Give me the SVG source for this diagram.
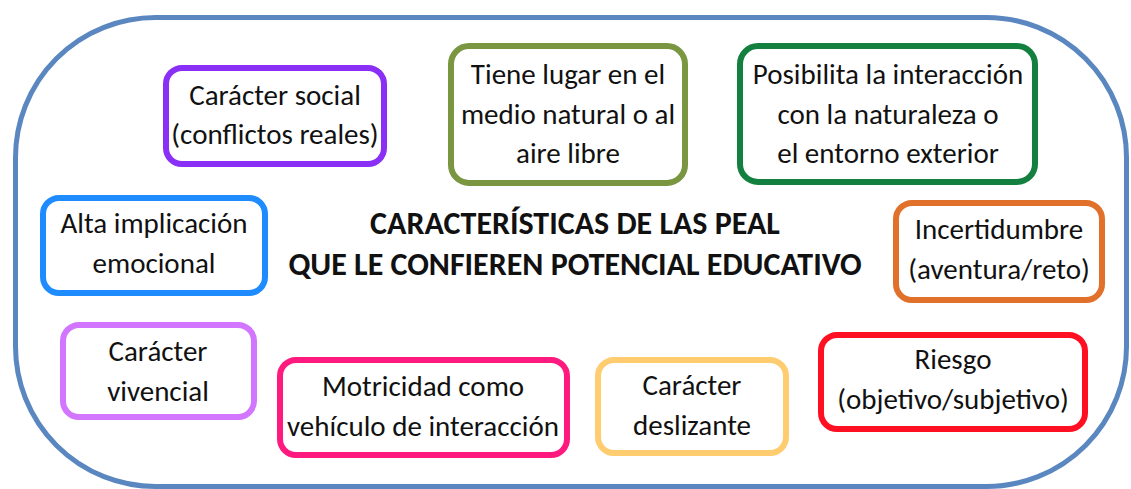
<svg xmlns="http://www.w3.org/2000/svg" width="1131" height="489" viewBox="0 0 1131 489">
<style>
.box{fill:#fff;stroke-width:6}
.t{font-family:Carlito,Lato,"Liberation Sans",sans-serif;font-size:29px;fill:#111;text-anchor:middle}
.title{font-family:Carlito,Lato,"Liberation Sans",sans-serif;font-size:32px;font-weight:bold;fill:#111;text-anchor:middle}
</style>
<rect width="1131" height="489" fill="#fff"/>
<g id="frame">
<rect x="15.5" y="17.5" width="1111" height="469" rx="140" ry="140" fill="#fff" stroke="#5a87c0" stroke-width="5"/>
</g>
<g id="connectors"></g>
<g id="title">
<text class="title" x="575" y="234">CARACTERÍSTICAS DE LAS PEAL</text>
<text class="title" x="575" y="275">QUE LE CONFIEREN POTENCIAL EDUCATIVO</text>
</g>
<g id="social">
<rect class="box" x="166" y="68" width="218" height="96" rx="16" stroke="#8a2ff5"/>
<text class="t" x="275" y="105">Carácter social</text>
<text class="t" x="275" y="144">(conflictos reales)</text>
</g>
<g id="medio">
<rect class="box" x="451" y="46" width="234" height="137" rx="18" stroke="#7b9641"/>
<text class="t" x="568" y="84">Tiene lugar en el</text>
<text class="t" x="568" y="124">medio natural o al</text>
<text class="t" x="568" y="163">aire libre</text>
</g>
<g id="naturaleza">
<rect class="box" x="740" y="46" width="295" height="136" rx="18" stroke="#148040"/>
<text class="t" x="888" y="84">Posibilita la interacción</text>
<text class="t" x="888" y="124">con la naturaleza o</text>
<text class="t" x="888" y="163">el entorno exterior</text>
</g>
<g id="emocional">
<rect class="box" x="43" y="198" width="222" height="95" rx="16" stroke="#1e8cff"/>
<text class="t" x="154" y="233">Alta implicación</text>
<text class="t" x="154" y="273">emocional</text>
</g>
<g id="incertidumbre">
<rect class="box" x="896" y="203" width="206" height="97" rx="16" stroke="#e0702a"/>
<text class="t" x="999" y="239">Incertidumbre</text>
<text class="t" x="999" y="279">(aventura/reto)</text>
</g>
<g id="vivencial">
<rect class="box" x="63" y="325" width="191" height="92" rx="16" stroke="#d275ff"/>
<text class="t" x="158" y="361">Carácter</text>
<text class="t" x="158" y="401">vivencial</text>
</g>
<g id="motricidad">
<rect class="box" x="280" y="360" width="287" height="95" rx="16" stroke="#ff1a80"/>
<text class="t" x="423" y="396">Motricidad como</text>
<text class="t" x="423" y="436">vehículo de interacción</text>
</g>
<g id="deslizante">
<rect class="box" x="598" y="360" width="188" height="93" rx="16" stroke="#ffcc70"/>
<text class="t" x="692" y="395">Carácter</text>
<text class="t" x="692" y="435">deslizante</text>
</g>
<g id="riesgo">
<rect class="box" x="821" y="335" width="264" height="94" rx="16" stroke="#ff0f22"/>
<text class="t" x="953" y="369">Riesgo</text>
<text class="t" x="953" y="409">(objetivo/subjetivo)</text>
</g>
</svg>
